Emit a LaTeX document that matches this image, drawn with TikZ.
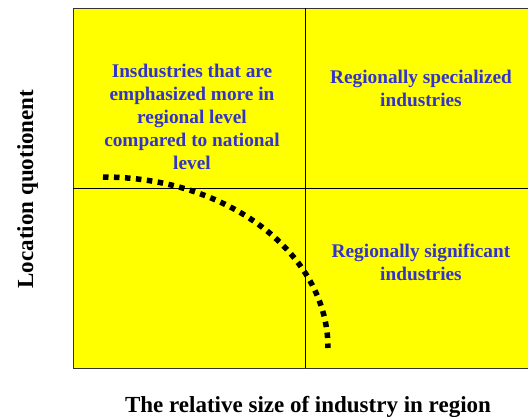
\documentclass[tikz,border=0pt]{standalone}
\usepackage{fontspec}
\setmainfont{Liberation Serif}
\usepackage{xcolor}
\usetikzlibrary{positioning}
\definecolor{quadblue}{RGB}{51,51,204}
\definecolor{quadyellow}{RGB}{255,255,0}

\begin{document}
\begin{tikzpicture}[x=1pt, y=1pt,
    quadtext/.style={text=quadblue, font=\bfseries\fontsize{19.3}{23}\selectfont, align=center, inner sep=0pt},
    axislabel/.style={font=\bfseries\fontsize{23}{27}\selectfont, anchor=base, inner sep=0pt}]

  % === Cadre de la page ===
  \useasboundingbox (0,0) rectangle (528,416);
  \clip (0,0) rectangle (528,416);

  % === Fond jaune et quadrants ===
  \fill[quadyellow] (73,48) rectangle (560,408);
  \draw[black!80, line width=0.8] (73,48) rectangle (560,408);
  \draw[line width=0.8] (305,48) -- (305,408);
  \draw[line width=0.8] (73,228) -- (560,228);

  % === Textes des quadrants ===
  \node[quadtext] (emph) at (192,299)
    {Insdustries that are\\emphasized more in\\regional level\\compared to national\\level};
  \node[quadtext] (spec) at (421,327.5) {Regionally specialized\\industries};
  \node[quadtext] (signif) at (421,153.5) {Regionally significant\\industries};

  % === Courbe pointillée ===
  \draw[line width=5.5, dash pattern=on 5.5pt off 5.5pt] (103,239)
    arc[start angle=90, end angle=0, x radius=225, y radius=171];

  % === Axes ===
  \node[axislabel] (xlabel) at (308,4) {The relative size of industry in region};
  \node[axislabel, rotate=90] (ylabel) at (33,227) {Location quotionent};

\end{tikzpicture}
\end{document}
